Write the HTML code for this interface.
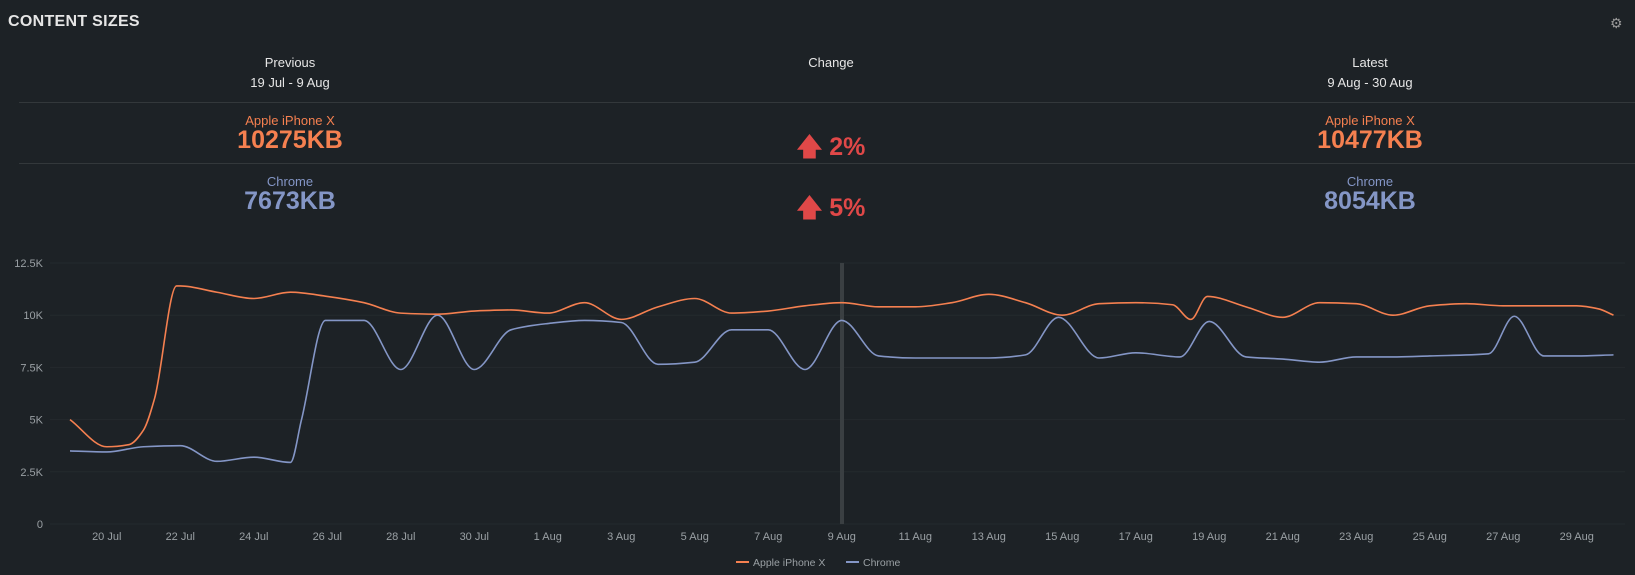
<!DOCTYPE html>
<html><head><meta charset="utf-8"><style>
body{margin:0;width:1635px;height:575px;background:#1d2226;font-family:"Liberation Sans",sans-serif;color:#e6e6e6;position:relative;overflow:hidden}
.a{position:absolute;white-space:nowrap}
.c{transform:translateX(-50%);text-align:center}
.t{left:8px;top:13px;font-size:16px;font-weight:bold;letter-spacing:.3px}
.h{font-size:13px}
.o{color:#f58050}.b{color:#8496c6}.r{color:#e04848}
.big{font-size:25px;font-weight:bold}
.line{position:absolute;left:19px;width:1616px;height:1px;background:#33383b}
</style></head><body>
<div class="a t">CONTENT SIZES</div>
<div class="a" style="left:1610px;top:15px;color:#999;font-size:14px">⚙</div>
<div class="a c h" style="left:290px;top:55px">Previous</div>
<div class="a c h" style="left:290px;top:75px">19 Jul - 9 Aug</div>
<div class="a c h" style="left:831px;top:55px">Change</div>
<div class="a c h" style="left:1370px;top:55px">Latest</div>
<div class="a c h" style="left:1370px;top:75px">9 Aug - 30 Aug</div>
<div class="line" style="top:102px"></div>
<div class="line" style="top:163px"></div>
<div class="a c h o" style="left:290px;top:113px">Apple iPhone X</div>
<div class="a c big o" style="left:290px;top:126px">10275KB</div>
<div class="a c h b" style="left:290px;top:174px">Chrome</div>
<div class="a c big b" style="left:290px;top:187px">7673KB</div>
<div class="a c h o" style="left:1370px;top:113px">Apple iPhone X</div>
<div class="a c big o" style="left:1370px;top:126px">10477KB</div>
<div class="a c h b" style="left:1370px;top:174px">Chrome</div>
<div class="a c big b" style="left:1370px;top:187px">8054KB</div>
<div class="a c big r" style="left:831px;top:128px">🡅 2%</div>
<div class="a c big r" style="left:831px;top:189px">🡅 5%</div>
<svg id="s" width="1635" height="575" style="position:absolute;left:0;top:0" font-family="Liberation Sans, sans-serif"></svg>
<script>
var s=document.getElementById('s'),h='';
function X(i){return 70+i*36.75}function Y(v){return 524-v*20.88}
['0','2.5K','5K','7.5K','10K','12.5K'].forEach(function(l,k){var y=Y(k*2.5);h+='<line x1="50" x2="1625" y1="'+y+'" y2="'+y+'" stroke="#242a2d"/><text x="43" y="'+(y+4)+'" fill="#9aa0a4" font-size="11" text-anchor="end">'+l+'</text>';});
var lab=['20 Jul','22 Jul','24 Jul','26 Jul','28 Jul','30 Jul','1 Aug','3 Aug','5 Aug','7 Aug','9 Aug','11 Aug','13 Aug','15 Aug','17 Aug','19 Aug','21 Aug','23 Aug','25 Aug','27 Aug','29 Aug'];
lab.forEach(function(l,k){h+='<text x="'+X(1+2*k)+'" y="540" fill="#9aa0a4" font-size="11" text-anchor="middle">'+l+'</text>';});
h+='<rect x="840" y="263" width="4" height="261" fill="#3a3f42"/>';
var O=[[0,5],[1,3.7],[1.6,3.8],[2,4.5],[2.3,6],[2.9,11.4],[3,11.4],[4,11.1],[5,10.8],[6,11.1],[7,10.9],[8,10.6],[9,10.1],[10,10.05],[11,10.2],[12,10.25],[13,10.1],[14,10.6],[15,9.8],[16,10.4],[17,10.8],[18,10.1],[19,10.2],[20,10.45],[21,10.6],[22,10.4],[23,10.4],[24,10.6],[25,11],[26,10.6],[27,10],[28,10.55],[29,10.6],[30,10.5],[30.5,9.8],[30.95,10.9],[32,10.4],[33,9.9],[34,10.6],[35,10.55],[36,10],[37,10.45],[38,10.55],[39,10.45],[40,10.45],[41,10.45],[41.6,10.3],[42,10]];
var C=[[0,3.5],[1,3.45],[2,3.7],[3,3.75],[4,3.0],[5,3.2],[6,2.95],[6.3,5],[6.95,9.75],[8,9.75],[9,7.4],[10,10],[11,7.4],[12,9.3],[13,9.6],[14,9.75],[15,9.65],[16,7.65],[17,7.75],[18,9.3],[19,9.3],[20,7.4],[21,9.75],[22,8.05],[23,7.95],[24,7.95],[25,7.95],[26,8.1],[26.9,9.9],[28,7.95],[29,8.2],[30.2,8.0],[31,9.7],[32,8.0],[33,7.9],[34,7.75],[35,8.0],[36,8.0],[37,8.05],[38.6,8.15],[39.3,9.95],[40.1,8.05],[41,8.05],[42,8.1]];
function path(P){var p=P.map(function(a){return[X(a[0]),Y(a[1])]}),n=p.length,m=[],d=[];
for(var i=0;i<n-1;i++)d[i]=(p[i+1][1]-p[i][1])/(p[i+1][0]-p[i][0]);
m[0]=d[0];m[n-1]=d[n-2];
for(i=1;i<n-1;i++){if(d[i-1]*d[i]<=0)m[i]=0;else{var h0=p[i][0]-p[i-1][0],h1=p[i+1][0]-p[i][0];m[i]=3*(h0+h1)/((2*h1+h0)/d[i-1]+(h1+2*h0)/d[i]);}}
var s='M'+p[0][0]+','+p[0][1];
for(i=0;i<n-1;i++){var dx=(p[i+1][0]-p[i][0])/3;s+=' C'+(p[i][0]+dx)+','+(p[i][1]+m[i]*dx)+' '+(p[i+1][0]-dx)+','+(p[i+1][1]-m[i+1]*dx)+' '+p[i+1][0]+','+p[i+1][1];}
return s;}
h+='<path d="'+path(C)+'" fill="none" stroke="#8496c6" stroke-width="1.6"/>';
h+='<path d="'+path(O)+'" fill="none" stroke="#f58050" stroke-width="1.6"/>';
h+='<line x1="736" x2="749" y1="562" y2="562" stroke="#f58050" stroke-width="2"/><text x="753" y="566" fill="#9aa0a4" font-size="10.5">Apple iPhone X</text>';
h+='<line x1="846" x2="859" y1="562" y2="562" stroke="#8496c6" stroke-width="2"/><text x="863" y="566" fill="#9aa0a4" font-size="10.5">Chrome</text>';
s.innerHTML=h;
</script>
</body></html>
